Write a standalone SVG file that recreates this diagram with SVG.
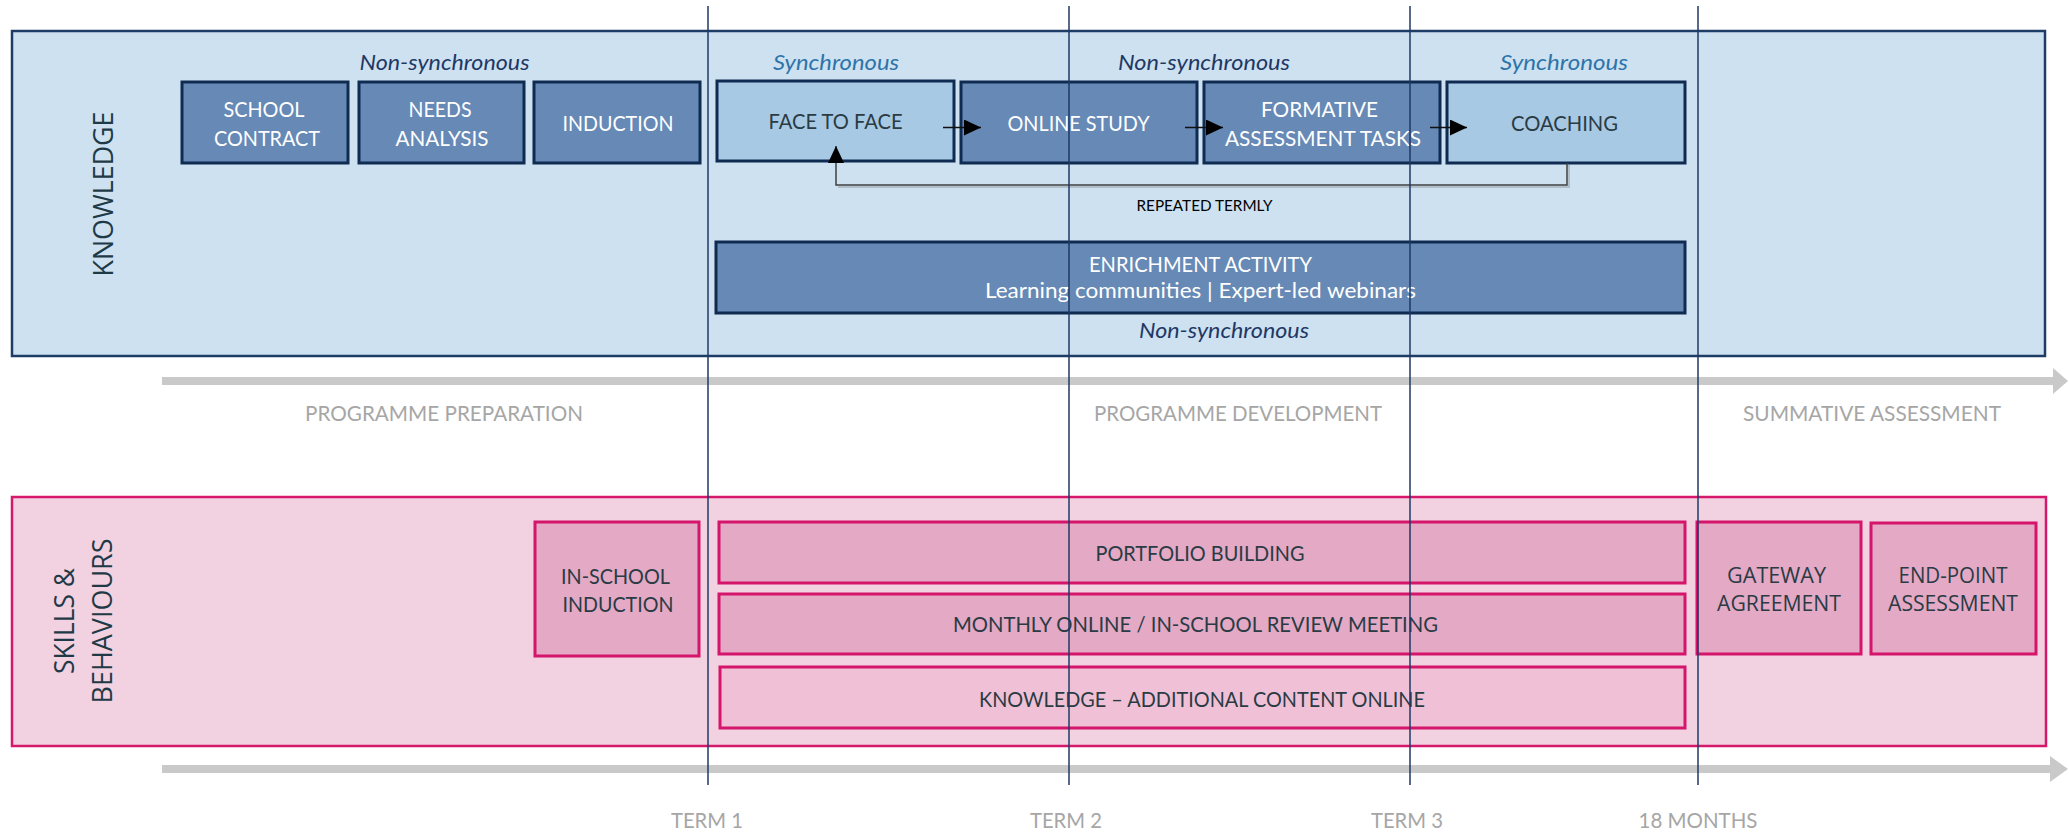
<svg xmlns="http://www.w3.org/2000/svg" width="2069" height="834" viewBox="0 0 2069 834">
<style>
.t{font-family:Lato,"Open Sans",sans-serif;text-anchor:middle}
.w{fill:#ffffff;font-size:21px}
.d{fill:#2a3b44;font-size:21px}
.o{font-family:"Open Sans",Lato,sans-serif;text-anchor:middle;fill:#2a3b44;font-size:22px}
.it{font-style:italic;font-size:21px}
.nv{fill:#1f3864}
.sy{fill:#2e74a8}
.g{fill:#a6a6a6;font-size:22px}
.lbl{font-family:"Open Sans",Lato,sans-serif;text-anchor:middle;fill:#1f3a47;font-size:27px}
.dark{fill:#6689b6;stroke:#0f2b52;stroke-width:3}
.light{fill:#a7c9e4;stroke:#0f2b52;stroke-width:3}
.pk{fill:#e3a9c5;stroke:#d4156b;stroke-width:3}
.pk2{fill:#f0c1d6;stroke:#d4156b;stroke-width:3}
.vl{stroke:#1f3864;stroke-width:1.5;fill:none}
.ar{stroke:#111111;stroke-width:1.5;fill:none}
.gb{fill:#c8c9c8}
</style>
<defs>
<marker id="ah" markerUnits="userSpaceOnUse" markerWidth="18" markerHeight="16" refX="17" refY="8" orient="auto">
<path d="M0,0 L17,8 L0,16 Z" fill="#000000"/>
</marker>
</defs>

<g id="knowledge-lane">
<rect x="12" y="31" width="2033" height="325" fill="#cde1f1" stroke="#1d3c66" stroke-width="2.5"/>
<text class="lbl" transform="translate(112.5,194) rotate(-90)" textLength="165" lengthAdjust="spacingAndGlyphs">KNOWLEDGE</text>
</g>

<g id="skills-lane">
<rect x="12" y="497" width="2034" height="249" fill="#f2d1e0" stroke="#d6186c" stroke-width="2.5"/>
<text class="lbl" transform="translate(74,621) rotate(-90)" textLength="106" lengthAdjust="spacingAndGlyphs">SKILLS &amp;</text>
<text class="lbl" transform="translate(111.5,621) rotate(-90)" textLength="165" lengthAdjust="spacingAndGlyphs">BEHAVIOURS</text>
</g>

<g id="timeline-arrows">
<rect class="gb" x="162" y="377" width="1892" height="8"/>
<polygon class="gb" points="2053,368 2068,381 2053,394"/>
<rect class="gb" x="162" y="765" width="1889" height="8"/>
<polygon class="gb" points="2050,756 2068,769 2050,782"/>
<text class="t g" x="444" y="421" textLength="278" lengthAdjust="spacingAndGlyphs">PROGRAMME PREPARATION</text>
<text class="t g" x="1238" y="421" textLength="288" lengthAdjust="spacingAndGlyphs">PROGRAMME DEVELOPMENT</text>
<text class="t g" x="1872" y="421" textLength="258" lengthAdjust="spacingAndGlyphs">SUMMATIVE ASSESSMENT</text>
<text class="t g" x="707" y="828" textLength="72" lengthAdjust="spacingAndGlyphs">TERM 1</text>
<text class="t g" x="1066" y="828" textLength="72" lengthAdjust="spacingAndGlyphs">TERM 2</text>
<text class="t g" x="1407" y="828" textLength="72" lengthAdjust="spacingAndGlyphs">TERM 3</text>
<text class="t g" x="1698" y="828" textLength="119" lengthAdjust="spacingAndGlyphs">18 MONTHS</text>
</g>

<g id="mode-labels">
<text class="t it nv" x="444.5" y="70" textLength="170" lengthAdjust="spacingAndGlyphs">Non-synchronous</text>
<text class="t it sy" x="836" y="70" textLength="126" lengthAdjust="spacingAndGlyphs">Synchronous</text>
<text class="t it nv" x="1204" y="70" textLength="172" lengthAdjust="spacingAndGlyphs">Non-synchronous</text>
<text class="t it sy" x="1564" y="70" textLength="128" lengthAdjust="spacingAndGlyphs">Synchronous</text>
<text class="t it nv" x="1224" y="338" textLength="170" lengthAdjust="spacingAndGlyphs">Non-synchronous</text>
</g>

<g id="school-contract">
<rect class="dark" x="182" y="82" width="166" height="81"/>
<text class="t w" x="264" y="117" textLength="81" lengthAdjust="spacingAndGlyphs">SCHOOL</text>
<text class="t w" x="267" y="146" textLength="106" lengthAdjust="spacingAndGlyphs">CONTRACT</text>
</g>
<g id="needs-analysis">
<rect class="dark" x="359" y="82" width="165" height="81"/>
<text class="t w" x="440" y="117" textLength="63" lengthAdjust="spacingAndGlyphs">NEEDS</text>
<text class="t w" x="442" y="146" textLength="93" lengthAdjust="spacingAndGlyphs">ANALYSIS</text>
</g>
<g id="induction">
<rect class="dark" x="534" y="82" width="166" height="81"/>
<text class="t w" x="618" y="131" textLength="111" lengthAdjust="spacingAndGlyphs">INDUCTION</text>
</g>
<g id="face-to-face">
<rect class="light" x="717" y="81" width="237" height="80"/>
<text class="t d" x="835.5" y="129" textLength="134" lengthAdjust="spacingAndGlyphs">FACE TO FACE</text>
</g>
<g id="online-study">
<rect class="dark" x="961" y="82" width="236" height="81"/>
<text class="t w" x="1078.5" y="131" textLength="142" lengthAdjust="spacingAndGlyphs">ONLINE STUDY</text>
</g>
<g id="formative-assessment">
<rect class="dark" x="1204" y="82" width="236" height="81"/>
<text class="t w" x="1319.5" y="117" textLength="117" lengthAdjust="spacingAndGlyphs">FORMATIVE</text>
<text class="t w" x="1323" y="146" textLength="196" lengthAdjust="spacingAndGlyphs">ASSESSMENT TASKS</text>
</g>
<g id="coaching">
<rect class="light" x="1447" y="82" width="238" height="81"/>
<text class="t d" x="1564.5" y="131" textLength="107" lengthAdjust="spacingAndGlyphs">COACHING</text>
</g>
<g id="enrichment-activity">
<rect class="dark" x="716" y="242" width="969" height="71"/>
<text class="t w" x="1200.5" y="271.5" textLength="223" lengthAdjust="spacingAndGlyphs">ENRICHMENT ACTIVITY</text>
<text class="t w" x="1200.5" y="298" textLength="431" lengthAdjust="spacingAndGlyphs">Learning communities | Expert-led webinars</text>
</g>

<g id="in-school-induction">
<rect class="pk" x="535" y="522" width="164" height="134"/>
<text class="t d" x="615.5" y="584" textLength="109" lengthAdjust="spacingAndGlyphs">IN-SCHOOL</text>
<text class="t d" x="618" y="612" textLength="111" lengthAdjust="spacingAndGlyphs">INDUCTION</text>
</g>
<g id="portfolio-building">
<rect class="pk" x="719" y="522" width="966" height="61"/>
<text class="t d" x="1200" y="561" textLength="209" lengthAdjust="spacingAndGlyphs">PORTFOLIO BUILDING</text>
</g>
<g id="review-meeting">
<rect class="pk" x="719" y="594" width="966" height="60"/>
<text class="t d" x="1195.5" y="632" textLength="485" lengthAdjust="spacingAndGlyphs">MONTHLY ONLINE / IN-SCHOOL REVIEW MEETING</text>
</g>
<g id="additional-content">
<rect class="pk2" x="720" y="667" width="965" height="61"/>
<text class="t d" x="1202" y="706.5" textLength="446" lengthAdjust="spacingAndGlyphs">KNOWLEDGE – ADDITIONAL CONTENT ONLINE</text>
</g>
<g id="gateway-agreement">
<rect class="pk" x="1697" y="522" width="164" height="132"/>
<text class="o" x="1776.5" y="583" textLength="99" lengthAdjust="spacingAndGlyphs">GATEWAY</text>
<text class="o" x="1779" y="611" textLength="124" lengthAdjust="spacingAndGlyphs">AGREEMENT</text>
</g>
<g id="end-point-assessment">
<rect class="pk" x="1871" y="523" width="165" height="131"/>
<text class="o" x="1953" y="583" textLength="109" lengthAdjust="spacingAndGlyphs">END-POINT</text>
<text class="o" x="1953" y="611" textLength="130" lengthAdjust="spacingAndGlyphs">ASSESSMENT</text>
</g>

<g id="connectors">
<line class="ar" x1="943" y1="127.5" x2="981" y2="127.5" marker-end="url(#ah)"/>
<line class="ar" x1="1185" y1="127.5" x2="1223" y2="127.5" marker-end="url(#ah)"/>
<line class="ar" x1="1430" y1="127.5" x2="1467" y2="127.5" marker-end="url(#ah)"/>
<path d="M1569,165 V187 H838" fill="none" stroke="#a8b4be" stroke-width="1.5"/>
<path d="M1567,163 V185 H836 V146" fill="none" stroke="#404040" stroke-width="1.5" marker-end="url(#ah)"/>
<text class="t" x="1204.5" y="210.5" fill="#000000" font-size="15" textLength="136" lengthAdjust="spacingAndGlyphs">REPEATED TERMLY</text>
</g>

<g id="term-lines">
<line class="vl" x1="708" y1="6" x2="708" y2="785"/>
<line class="vl" x1="1069" y1="6" x2="1069" y2="785"/>
<line class="vl" x1="1410" y1="6" x2="1410" y2="785"/>
<line class="vl" x1="1698" y1="6" x2="1698" y2="785"/>
</g>
</svg>
